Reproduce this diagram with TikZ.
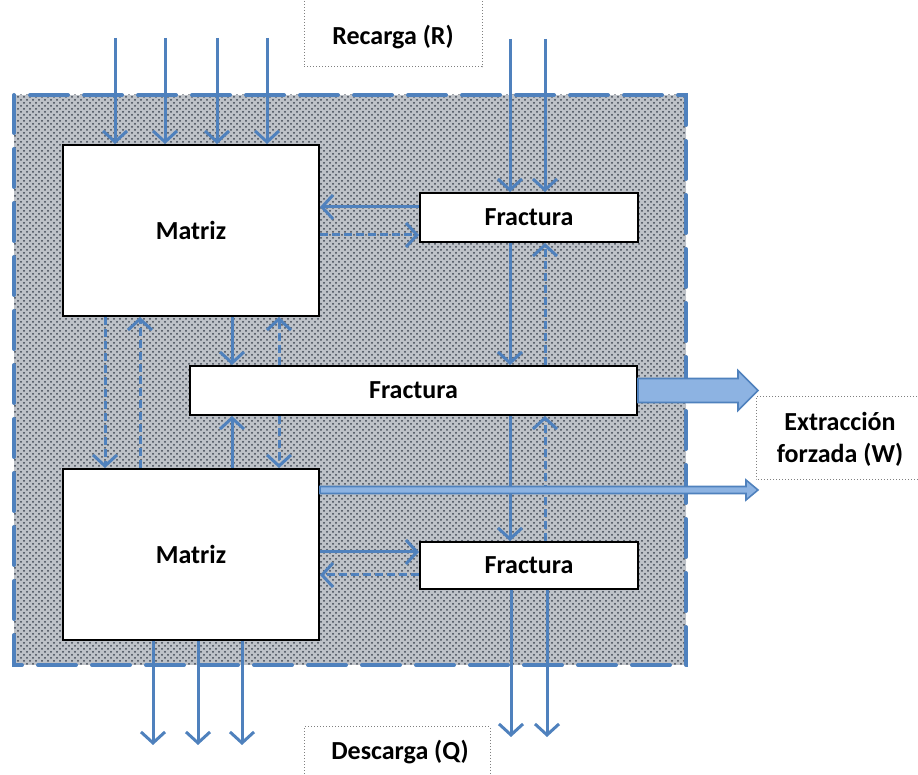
\documentclass[tikz,border=0pt]{standalone}
\usepackage{fontspec}
\setmainfont{Carlito}
\usetikzlibrary{arrows.meta,calc,patterns}
\definecolor{obl}{HTML}{4F81BD}
\definecolor{lbl}{HTML}{8DB3E2}
\definecolor{texgray}{HTML}{BEC2C8}
\definecolor{texdot}{HTML}{3C4450}
\begin{document}
\begin{tikzpicture}[x=0.5pt,y=-0.5pt,
 box/.style={draw=black, line width=1pt, fill=white, font=\bfseries\fontsize{13}{15}\selectfont, inner sep=0pt},
 flow/.style={draw=obl, line width=1.5pt, -{Straight Barb[length=5.5pt,width=12pt,line width=1.5pt]}},
 dflow/.style={flow, dash pattern=on 4pt off 2pt},
 lab/.style={font=\bfseries\fontsize{13}{15}\selectfont, align=center, inner sep=0pt},
 labbox/.style={draw=gray, line width=0.5pt, densely dotted},
 bigarrow/.style={draw=obl, line width=0.8pt, fill=lbl, line join=miter}]
\useasboundingbox (0,0) rectangle (918,775);
% aquifer region
\fill[texgray] (14,95) rectangle (686,665);
\fill[pattern=crosshatch dots, pattern color=texdot] (14,95) rectangle (686,665);
\draw[obl, line width=2pt, line cap=round, dash pattern=on 19pt off 8pt] (14,95) rectangle (686,665);
% boxes
\node[box, minimum width=128pt, minimum height=85.5pt] (m1) at (191,230.5) {Matriz};
\node[box, minimum width=109pt, minimum height=24.5pt] (f1) at (529,217.5) {Fractura};
\node[box, minimum width=223.5pt, minimum height=24.5pt] (f2) at (413.5,390.5) {Fractura};
\node[box, minimum width=128pt, minimum height=85.5pt] (m2) at (191,554.5) {Matriz};
\node[box, minimum width=109pt, minimum height=23.5pt] (f3) at (529,565.5) {Fractura};
% labels
\node[lab] (rec) at (393,37) {Recarga (R)};
\draw[labbox] (304,-2) -- (304,67) -- (482,67) -- (482,-2);
\node[lab] (ext) at (840,439) {Extracción\\[1pt]forzada (W)};
\draw[labbox] (920,397) -- (756,397) -- (756,480) -- (920,480);
\node[lab] (des) at (400,752) {Descarga (Q)};
\draw[labbox] (304,777) -- (304,727) -- (490,727) -- (490,777);
% column / row coordinates
\coordinate (cA) at (105,0);
\coordinate (cB) at (140,0);
\coordinate (cC) at (232,0);
\coordinate (cD) at (279,0);
\coordinate (cE) at (510,0);
\coordinate (cF) at (545,0);
\coordinate (r207) at (0,207);
\coordinate (r235) at (0,235);
\coordinate (r552) at (0,552);
\coordinate (r575) at (0,575);
\coordinate (r490) at (0,490);
% recharge inputs
\coordinate (t1) at (115,38);
\coordinate (t2) at (165,38);
\coordinate (t3) at (217,38);
\coordinate (t4) at (267,38);
\coordinate (t5) at (510,39);
\coordinate (t6) at (545,39);
\foreach \t in {t1,t2,t3,t4} \draw[flow] (\t) -- (\t |- m1.north);
\foreach \t in {t5,t6} \draw[flow] (\t) -- (\t |- f1.north);
% discharge outputs
\coordinate (d1) at (153,745);
\coordinate (d2) at (198,745);
\coordinate (d3) at (242,745);
\coordinate (d4) at (511,737);
\coordinate (d5) at (547,737);
\foreach \d in {d1,d2,d3} \draw[flow] (\d |- m2.south) -- (\d);
\draw[flow] (d4 |- f3.south) -- (d4);
\draw[flow] (d5 |- f3.south) -- (d5);
% matrix <-> fracture (top)
\draw[flow] (f1.west |- r207) -- (m1.east |- r207);
\draw[dflow] (m1.east |- r235) -- (f1.west |- r235);
% matrix <-> fracture (bottom)
\draw[flow] (m2.east |- r552) -- (f3.west |- r552);
\draw[dflow] (f3.west |- r575) -- (m2.east |- r575);
% matrix <-> matrix
\draw[dflow] (m1.south -| cA) -- (m2.north -| cA);
\draw[dflow] (m2.north -| cB) -- (m1.south -| cB);
% matrix <-> middle fracture
\draw[flow] (m1.south -| cC) -- (f2.north -| cC);
\draw[dflow] (f2.north -| cD) -- (m1.south -| cD);
\draw[flow] (m2.north -| cC) -- (f2.south -| cC);
\draw[dflow] (f2.south -| cD) -- (m2.north -| cD);
% fracture <-> fracture
\draw[flow] (f1.south -| cE) -- (f2.north -| cE);
\draw[dflow] (f2.north -| cF) -- (f1.south -| cF);
\draw[flow] (f2.south -| cE) -- (f3.north -| cE);
\draw[dflow] (f3.north -| cF) -- (f2.south -| cF);
% forced extraction arrows
\draw[bigarrow] ($(f2.east)+(0,-12)$) -- ($(f2.east)+(100,-12)$) -- ($(f2.east)+(100,-20)$)
  -- ($(f2.east)+(120,0)$) -- ($(f2.east)+(100,20)$) -- ($(f2.east)+(100,12)$) -- ($(f2.east)+(0,12)$) -- cycle;
\coordinate (b0) at (m2.east |- r490);
\draw[bigarrow] ($(b0)+(0,-3.5)$) -- ($(b0)+(426,-3.5)$) -- ($(b0)+(426,-10)$)
  -- ($(b0)+(438,0)$) -- ($(b0)+(426,10)$) -- ($(b0)+(426,3.5)$) -- ($(b0)+(0,3.5)$) -- cycle;
\end{tikzpicture}
\end{document}
